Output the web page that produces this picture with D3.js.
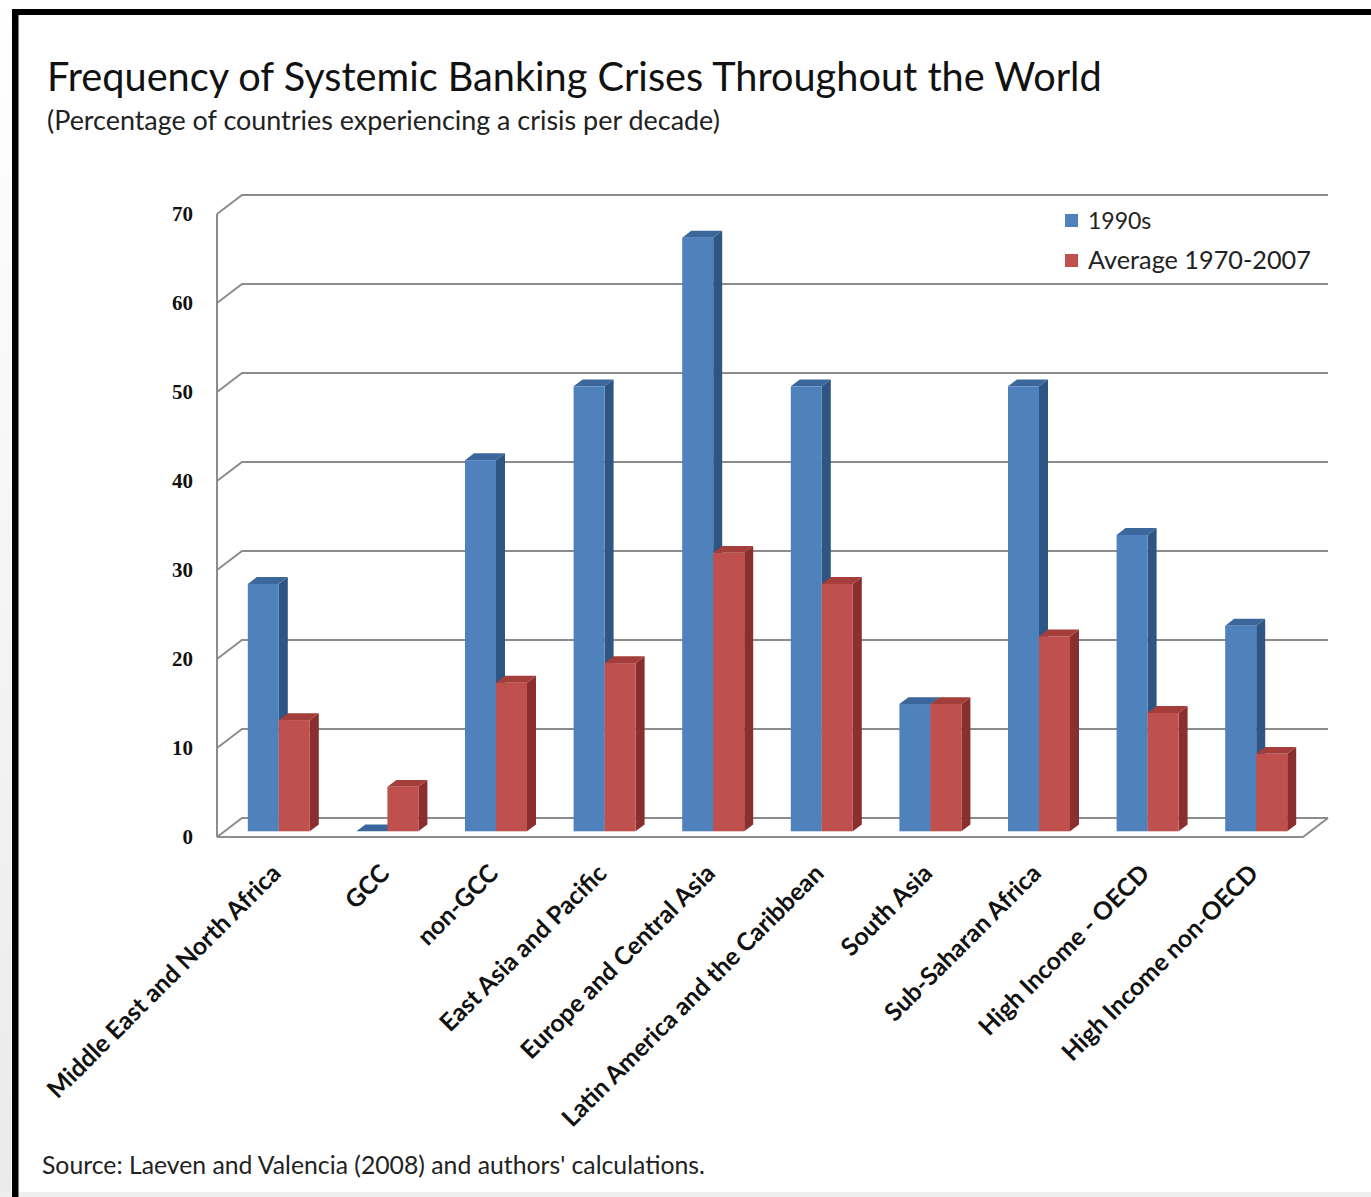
<!DOCTYPE html>
<html>
<head>
<meta charset="utf-8">
<script src="https://cdn.jsdelivr.net/npm/d3@7"></script>
<style>
  html, body { margin: 0; padding: 0; background: #ffffff; }
  svg { display: block; }
</style>
</head>
<body>
<script>
// Regions shown along the category axis
const categories = [
  "Middle East and North Africa", "GCC", "non-GCC", "East Asia and Pacific",
  "Europe and Central Asia", "Latin America and the Caribbean", "South Asia",
  "Sub-Saharan Africa", "High Income - OECD", "High Income non-OECD"
];
// Share of countries with a systemic banking crisis, per decade (%)
const values1990s = [27.8, 0, 41.7, 50, 66.7, 50, 14.3, 50, 33.3, 23.1];
const valuesAverage = [12.5, 5.0, 16.7, 18.9, 31.3, 27.8, 14.3, 21.9, 13.3, 8.7];
const seriesNames = ["1990s", "Average 1970-2007"];
const yTicks = [0, 10, 20, 30, 40, 50, 60, 70];

const W = 1371, H = 1197;
const svg = d3.select("body").append("svg").attr("width", W).attr("height", H);

// page background and frame
const defs = svg.append("defs");
const lg = defs.append("linearGradient").attr("id", "edgeShade").attr("x1", 0).attr("x2", 0).attr("y1", 0).attr("y2", 1);
lg.append("stop").attr("offset", "0%").attr("stop-color", "#ffffff");
lg.append("stop").attr("offset", "100%").attr("stop-color", "#eaeaea");
svg.append("rect").attr("width", W).attr("height", H).attr("fill", "#ffffff");
svg.append("rect").attr("x", 0).attr("y", 0).attr("width", 11).attr("height", H).attr("fill", "url(#edgeShade)");
svg.append("rect").attr("x", 0).attr("y", 1192).attr("width", W).attr("height", 5).attr("fill", "#eeeeee");
svg.append("rect").attr("x", 12).attr("y", 9).attr("width", W - 12).attr("height", 6).attr("fill", "#000");
svg.append("rect").attr("x", 12).attr("y", 9).attr("width", 6.5).attr("height", H - 9).attr("fill", "#000");

// 3D plot geometry: front plane plus a depth offset to the back wall
const x0 = 217, x1 = 1303;
const depthDX = 25, depthDY = -19;
const y = d3.scaleLinear().domain([0, 70]).range([837, 214]);
const x = d3.scaleBand().domain(categories).range([x0, x1]).paddingInner(0).paddingOuter(0);
const P = (px, py, d) => [px + d * depthDX, py + d * depthDY];

const grid = svg.append("g");
const gridColor = "#8c8c8c";
// side wall diagonals and back wall gridlines
yTicks.forEach(t => {
  const yy = y(t);
  const a = P(x0, yy, 0), b = P(x0, yy, 1), c = P(x1, yy, 1);
  grid.append("path")
    .attr("d", `M${a[0]},${a[1]}L${b[0]},${b[1]}L${c[0]},${c[1]}`)
    .attr("fill", "none").attr("stroke", gridColor).attr("stroke-width", 2);
});
// vertical axis at the front left corner
grid.append("line").attr("x1", x0).attr("x2", x0).attr("y1", y(70)).attr("y2", y(0))
  .attr("stroke", gridColor).attr("stroke-width", 2);
// floor: front edge and right diagonal
{
  const f0 = P(x0, y(0), 0), f1 = P(x1, y(0), 0), f2 = P(x1, y(0), 1);
  grid.append("path").attr("d", `M${f0[0]},${f0[1]}L${f1[0]},${f1[1]}L${f2[0]},${f2[1]}`)
    .attr("fill", "none").attr("stroke", gridColor).attr("stroke-width", 2);
}

// y tick labels
svg.append("g").selectAll("text").data(yTicks).join("text")
  .attr("x", 193).attr("y", d => y(d) + 7)
  .attr("text-anchor", "end")
  .attr("font-family", "'Liberation Serif', serif").attr("font-weight", "bold")
  .attr("font-size", 21).attr("fill", "#111")
  .text(d => d);

// bars as 3D boxes
const barW = 31;
const dFront = 0.3, dBack = 0.66;
const palettes = [
  { front: "#4f81bd", side: "#2f5583", top: "#3c679c" },
  { front: "#c0504d", side: "#8a2f2d", top: "#a33e3b" }
];
const series = [values1990s, valuesAverage];
const bars = svg.append("g");
categories.forEach((cat, i) => {
  const cx = x(cat) + x.bandwidth() / 2;
  series.forEach((vals, s) => {
    const v = vals[i];
    const left = cx - barW + s * barW;
    const right = left + barW;
    const pal = palettes[s];
    const fl = P(left, y(0), dFront), fr = P(right, y(0), dFront);
    const tl = P(left, y(v), dFront), tr = P(right, y(v), dFront);
    const br = P(right, y(0), dBack), btr = P(right, y(v), dBack), btl = P(left, y(v), dBack);
    const g = bars.append("g");
    // side face
    g.append("path").attr("d", `M${fr[0]},${fr[1]}L${br[0]},${br[1]}L${btr[0]},${btr[1]}L${tr[0]},${tr[1]}Z`)
      .attr("fill", pal.side);
    // top face
    g.append("path").attr("d", `M${tl[0]},${tl[1]}L${tr[0]},${tr[1]}L${btr[0]},${btr[1]}L${btl[0]},${btl[1]}Z`)
      .attr("fill", pal.top);
    // front face
    if (v > 0) {
      g.append("rect").attr("x", tl[0]).attr("y", tl[1]).attr("width", barW).attr("height", fl[1] - tl[1])
        .attr("fill", pal.front);
    }
  });
});

// fit a text element to a given width by scaling its font size
function fitWidth(sel, target) {
  const node = sel.node();
  const fs = parseFloat(sel.attr("font-size"));
  const w = node.getComputedTextLength();
  if (w > 0) sel.attr("font-size", fs * target / w);
  return sel;
}

// rotated category labels, sized so the longest one spans the same run as the axis label area
const catLabels = svg.append("g").selectAll("text").data(categories).join("text")
  .attr("transform", d => `translate(${x(d) + x.bandwidth() / 2 + 11},${875}) rotate(-45)`)
  .attr("text-anchor", "end")
  .attr("font-family", "Lato, sans-serif").attr("font-weight", "bold")
  .attr("font-size", 18).attr("fill", "#111")
  .text(d => d);
{
  const first = catLabels.filter((d, i) => i === 0);
  fitWidth(first, 318);
  catLabels.attr("font-size", first.attr("font-size"));
}

// legend
const legend = svg.append("g");
seriesNames.forEach((name, s) => {
  const ly = 214 + s * 40;
  legend.append("rect").attr("x", 1065).attr("y", ly).attr("width", 13).attr("height", 13)
    .attr("fill", palettes[s].front);
  const t = legend.append("text").attr("x", 1088).attr("y", ly + 15)
    .attr("font-family", "Lato, sans-serif").attr("font-size", 23).attr("fill", "#222").text(name);
  if (s === 1) fitWidth(t, 223);
});

// titles
const title = svg.append("text").attr("x", 47).attr("y", 91)
  .attr("font-family", "Lato, sans-serif").attr("font-size", 37).attr("fill", "#111")
  .text("Frequency of Systemic Banking Crises Throughout the World");
fitWidth(title, 1055);
const sub = svg.append("text").attr("x", 47).attr("y", 130)
  .attr("font-family", "Lato, sans-serif").attr("font-size", 24).attr("fill", "#222")
  .text("(Percentage of countries experiencing a crisis per decade)");
fitWidth(sub, 673);
const src = svg.append("text").attr("x", 42).attr("y", 1174)
  .attr("font-family", "Lato, sans-serif").attr("font-size", 20).attr("fill", "#222")
  .text("Source: Laeven and Valencia (2008) and authors'  calculations.");
fitWidth(src, 663);
</script>
</body>
</html>
